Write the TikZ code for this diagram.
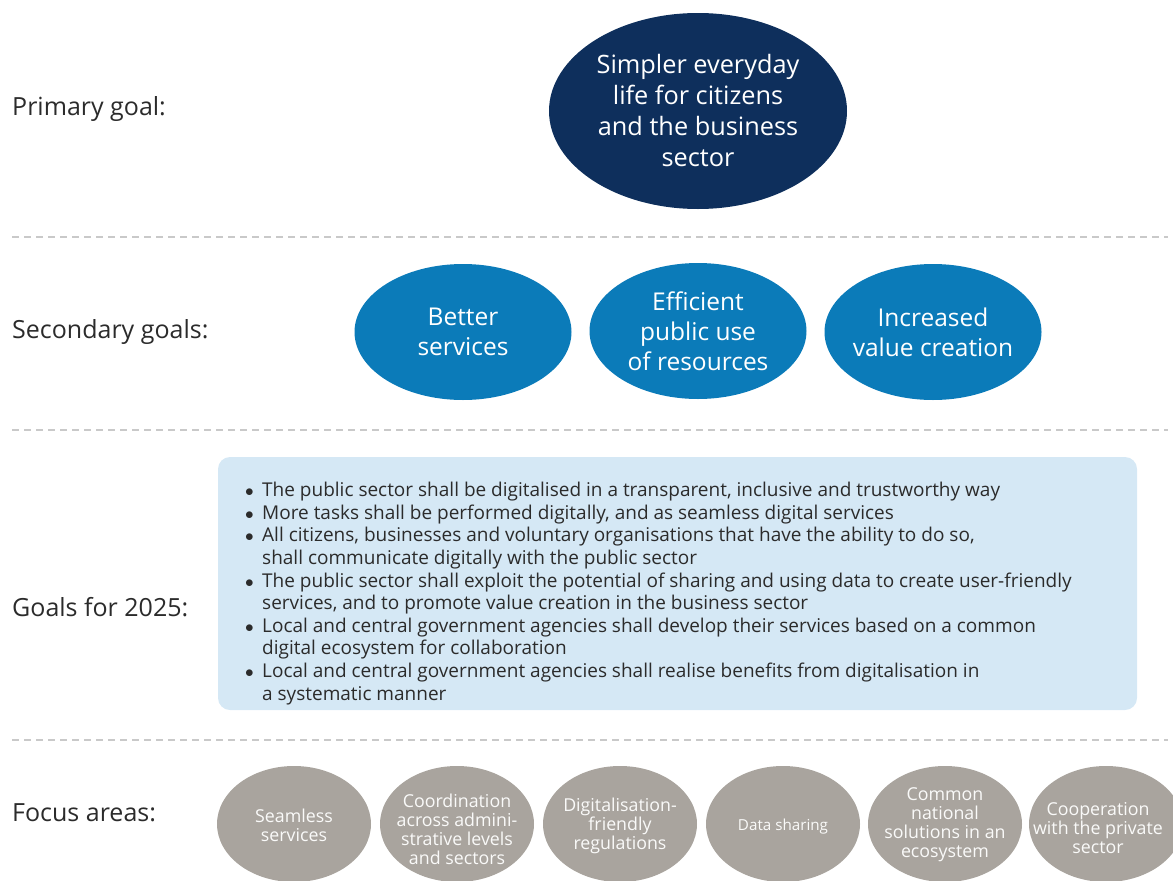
\documentclass[tikz,border=0pt]{standalone}
\usepackage{fontspec}
\setmainfont{Open Sans}
\usetikzlibrary{shapes.geometric}
\definecolor{navy}{HTML}{0E2F5C}
\definecolor{midblue}{HTML}{0B7BB9}
\definecolor{paleblue}{HTML}{D5E8F5}
\definecolor{stone}{HTML}{A9A49E}
\definecolor{rulegray}{HTML}{C9C9C9}
\definecolor{ink}{HTML}{2B2B2B}
\newcommand{\goalitem}{\makebox[16pt][l]{\hspace{-1pt}$\bullet$}}
\newcommand{\goalcont}{\hspace{16pt}}
\tikzset{
  x=1pt, y=-1pt,
  rowlabel/.style={anchor=west, inner sep=0pt, text=ink, font=\fontsize{25}{29}\selectfont},
  blob/.style={ellipse, inner sep=0pt},
  goalmain/.style={blob, fill=navy, minimum width=298pt, minimum height=196pt},
  goalsub/.style={blob, fill=midblue, minimum width=217pt, minimum height=136pt},
  focus/.style={blob, fill=stone, minimum width=154pt, minimum height=116pt},
  blobtext/.style={inner sep=0pt, text=white, align=center},
  maintext/.style={blobtext, font=\fontsize{25.3}{31}\selectfont},
  subtext/.style={blobtext, font=\fontsize{24.5}{30}\selectfont},
  focustext/.style={blobtext, text=white!94!stone, font=\fontsize{17.8}{19}\selectfont},
  divider/.style={rulegray, line width=1.4pt, dash pattern=on 7pt off 5pt},
}
\begin{document}
\begin{tikzpicture}
\useasboundingbox (0,0) rectangle (1173,881);
\clip (0,0) rectangle (1173,881);

% section dividers
\coordinate (d1a) at (12,237);  \coordinate (d1b) at (1168,237);
\coordinate (d2a) at (12,430);  \coordinate (d2b) at (1168,430);
\coordinate (d3a) at (12,740);  \coordinate (d3b) at (1168,740);
\draw[divider] (d1a) -- (d1b);
\draw[divider] (d2a) -- (d2b);
\draw[divider] (d3a) -- (d3b);

% row labels
\node[rowlabel] (lprimary) at (12,109) {Primary goal:};
\node[rowlabel] (lsecondary) at (12,332) {Secondary goals:};
\node[rowlabel] (lgoals) at (12,607) {Goals for 2025:};
\node[rowlabel] (lfocus) at (12,813) {Focus areas:};

% primary goal
\node[goalmain] (primary) at (698,111) {};
\node[maintext] (primaryt) at (primary) {Simpler everyday\\life for citizens\\and the business\\sector};

% secondary goals
\node[goalsub] (better) at (463,332) {};
\node[goalsub] (efficient) at (698,331) {};
\node[goalsub] (value) at (933,332) {};
\node[subtext] (bettert) at (better) {Better\\services};
\node[subtext] (efficientt) at (efficient) {Efficient\\public use\\of resources};
\node[subtext] (valuet) at (value) {Increased\\value creation};

% goals for 2025
\node[fill=paleblue, rounded corners=12pt, minimum width=919pt, minimum height=253pt, inner sep=0pt] (goalbox) at (677.5,583.5) {};
\node[anchor=north west, inner sep=0pt, text=ink, align=left, font=\fontsize{19}{22.6}\selectfont] (goallist) at (246,482)
{\goalitem The public sector shall be digitalised in a transparent, inclusive and trustworthy way\\
\goalitem More tasks shall be performed digitally, and as seamless digital services\\
\goalitem All citizens, businesses and voluntary organisations that have the ability to do so,\\
\goalcont shall communicate digitally with the public sector\\
\goalitem The public sector shall exploit the potential of sharing and using data to create user-friendly\\
\goalcont services, and to promote value creation in the business sector\\
\goalitem Local and central government agencies shall develop their services based on a common\\
\goalcont digital ecosystem for collaboration\\
\goalitem Local and central government agencies shall realise benefits from digitalisation in\\
\goalcont a systematic manner};

% focus areas
\node[focus] (seamless) at (294,824) {};
\node[focus] (coord) at (457,824) {};
\node[focus] (regs) at (620,824) {};
\node[focus] (data) at (783,824) {};
\node[focus] (common) at (945,824) {};
\node[focus] (private) at (1106,824) {};
\node[focustext] (seamlesst) at (294,825) {Seamless\\services};
\node[focustext] (coordt) at (457,829) {Coordination\\across admini-\\strative levels\\and sectors};
\node[focustext] (regst) at (620,826) {Digitalisation-\\friendly\\regulations};
\node[focustext, font=\fontsize{15.2}{18}\selectfont] (datat) at (783,827) {Data sharing};
\node[focustext] (commont) at (945,825) {Common\\national\\solutions in an\\ecosystem};
\node[focustext] (privatet) at (1098,828) {Cooperation\\with the private\\sector};
\end{tikzpicture}
\end{document}
